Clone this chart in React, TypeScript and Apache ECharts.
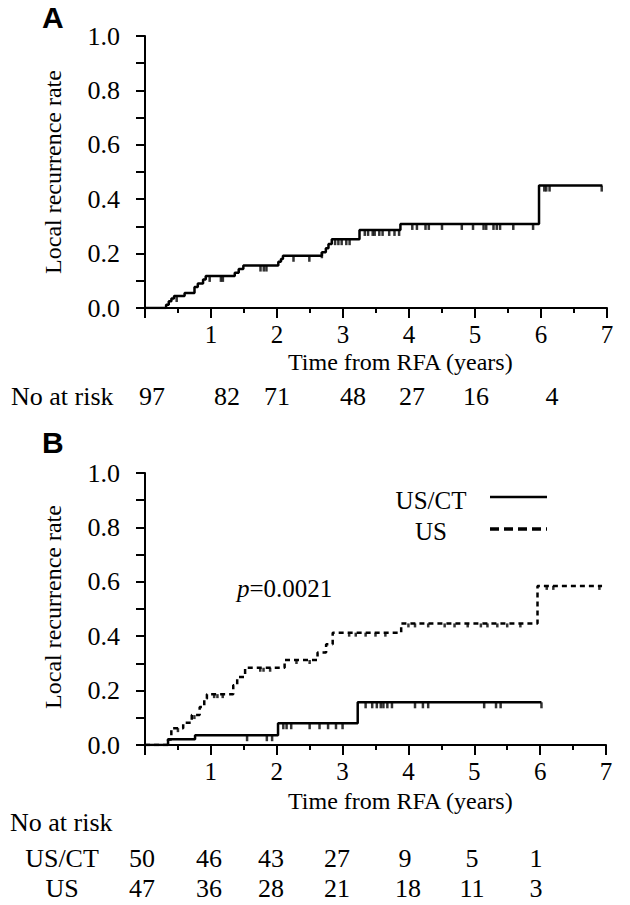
import React, { useEffect, useRef } from "react";
import * as echarts from "echarts";

// ---------- Data ----------
const xTickValues = [0, 1, 2, 3, 4, 5, 6, 7];

// Panel A: all patients
const aTimes = [0, 0.32, 0.36, 0.4, 0.44, 0.6, 0.75, 0.8, 0.88, 0.92, 1.36, 1.42, 1.49, 2.02, 2.06, 2.09, 2.68, 2.74, 2.78, 2.83, 3.25, 3.87, 5.97, 6.93];
const aRates = [0, 0.012, 0.025, 0.035, 0.044, 0.055, 0.077, 0.09, 0.105, 0.118, 0.13, 0.143, 0.156, 0.17, 0.18, 0.192, 0.205, 0.22, 0.235, 0.253, 0.287, 0.309, 0.45, 0.45];
const aCensor = [0.48, 0.98, 1.15, 1.18, 1.75, 1.8, 1.84, 2.25, 2.49, 2.68, 2.88, 2.93, 2.98, 3.05, 3.1, 3.33, 3.38, 3.45, 3.48, 3.55, 3.6, 3.7, 3.78, 3.85, 4.05, 4.12, 4.25, 4.3, 4.5, 4.8, 4.97, 5.13, 5.17, 5.28, 5.33, 5.38, 5.58, 5.88, 6.05, 6.08, 6.13, 6.92];

// Panel B: US/CT (solid)
const ctTimes = [0, 0.35, 0.76, 2.02, 3.23, 6.02];
const ctRates = [0, 0.021, 0.036, 0.08, 0.157, 0.157];
const ctCensor = [1.55, 1.85, 1.93, 2.1, 2.15, 2.22, 2.5, 2.65, 2.78, 2.9, 3.0, 3.35, 3.45, 3.52, 3.58, 3.62, 3.68, 3.75, 4.1, 4.22, 4.3, 5.15, 5.33, 5.4, 6.02];

// Panel B: US (dashed)
const usTimes = [0, 0.35, 0.4, 0.58, 0.71, 0.83, 0.9, 0.94, 1.34, 1.4, 1.52, 2.12, 2.62, 2.75, 2.85, 3.89, 5.96, 6.94];
const usRates = [0, 0.02, 0.062, 0.082, 0.11, 0.14, 0.17, 0.187, 0.22, 0.25, 0.284, 0.3125, 0.34, 0.37, 0.413, 0.447, 0.585, 0.585];
const usCensor = [0.5, 0.75, 1.05, 1.1, 1.18, 1.75, 1.8, 1.9, 2.3, 2.5, 3.1, 3.2, 3.35, 3.5, 3.65, 4.0, 4.1, 4.3, 4.55, 4.7, 4.9, 5.1, 5.2, 5.35, 5.5, 5.7, 6.1, 6.2, 6.9];

// Numbers at risk
const riskAll = [97, 82, 71, 48, 27, 16, 4];
const riskCT = [50, 46, 43, 27, 9, 5, 1];
const riskUS = [47, 36, 28, 21, 18, 11, 3];

const pValueText = "=0.0021";
const legendNames = ["US/CT", "US"];

// ---------- Layout (positions only) ----------
const riskAllX = [152, 227, 277, 353, 412, 476, 552];
const riskCTX = [142, 209, 271, 337, 405, 472, 536];
const riskUSX = [142, 209, 271, 337, 408, 472, 536];

const SERIF = "Liberation Serif";
const SANS = "Liberation Sans";

const stepAt = (times: number[], rates: number[], t: number) => {
  let v = 0;
  for (let i = 0; i < times.length; i++) if (times[i] <= t) v = rates[i];
  return v;
};

const pairs = (times: number[], rates: number[]) => times.map((t, i) => [t, rates[i]]);

const blackLine = { color: "#000", width: 2 };

const mkX = (gridIndex: number) => ({
  type: "value",
  gridIndex,
  min: 0,
  max: 7,
  interval: 1,
  axisLine: { show: true, onZero: false, lineStyle: blackLine },
  axisTick: { show: true, length: 10, lineStyle: blackLine },
  minorTick: { show: true, splitNumber: 2, length: 5, lineStyle: blackLine },
  splitLine: { show: false },
  minorSplitLine: { show: false },
  axisLabel: {
    margin: 14,
    fontSize: 25,
    color: "#000",
    fontFamily: SERIF,
    formatter: (v: number) => (xTickValues.includes(v) && v !== 0 ? String(v) : ""),
  },
});

const mkY = (gridIndex: number) => ({
  type: "value",
  gridIndex,
  min: 0,
  max: 1,
  interval: 0.1,
  axisLine: { show: true, onZero: false, lineStyle: blackLine },
  axisTick: { show: true, length: 9, lineStyle: blackLine },
  splitLine: { show: false },
  axisLabel: {
    margin: 25,
    fontSize: 26,
    color: "#000",
    fontFamily: SERIF,
    formatter: (v: number) => (Math.round(v * 10) % 2 === 0 ? v.toFixed(1) : ""),
  },
});

const stepSeries = (name: string, idx: number, times: number[], rates: number[], type: any) => ({
  name,
  type: "line",
  xAxisIndex: idx,
  yAxisIndex: idx,
  step: "end",
  symbol: "none",
  showSymbol: false,
  data: pairs(times, rates),
  lineStyle: { color: "#000", width: 2.5, type },
  z: 3,
});

const censorSeries = (name: string, idx: number, times: number[], rates: number[], censor: number[], h: number) => ({
  name,
  type: "scatter",
  xAxisIndex: idx,
  yAxisIndex: idx,
  symbol: "rect",
  symbolSize: [2.5, h],
  symbolOffset: [0, h / 2],
  itemStyle: { color: "#000" },
  data: censor.map((t) => [t, stepAt(times, rates, t)]),
  z: 4,
});

const txt = (text: string, x: number, y: number, extra: any = {}) => ({
  type: "text",
  x,
  y,
  style: {
    text,
    fill: "#000",
    fontFamily: SERIF,
    fontSize: 26,
    align: "center",
    verticalAlign: "middle",
    ...extra,
  },
});

export default function App() {
  const ref = useRef<HTMLDivElement>(null);

  useEffect(() => {
    if (!ref.current) return;
    const chart = echarts.init(ref.current, null, { renderer: "svg" });

    const graphics: any[] = [];
    // panel letters
    graphics.push(txt("A", 42, 17, { fontFamily: SANS, fontWeight: "bold", fontSize: 30, align: "left" }));
    graphics.push(txt("B", 42, 442, { fontFamily: SANS, fontWeight: "bold", fontSize: 30, align: "left" }));
    // y-axis titles
    graphics.push({ ...txt("Local recurrence rate", 53, 172, { fontSize: 24 }), rotation: Math.PI / 2 });
    graphics.push({ ...txt("Local recurrence rate", 53, 607, { fontSize: 24 }), rotation: Math.PI / 2 });
    // x-axis titles
    graphics.push(txt("Time from RFA (years)", 288, 362, { fontSize: 24, align: "left" }));
    graphics.push(txt("Time from RFA (years)", 288, 801, { fontSize: 24, align: "left" }));
    // at risk A
    graphics.push(txt("No at risk", 11, 396, { align: "left" }));
    riskAll.forEach((n, i) => graphics.push(txt(String(n), riskAllX[i], 396)));
    // at risk B
    graphics.push(txt("No at risk", 10, 822, { align: "left" }));
    graphics.push(txt(legendNames[0], 62, 858));
    graphics.push(txt(legendNames[1], 62, 888));
    riskCT.forEach((n, i) => graphics.push(txt(String(n), riskCTX[i], 858)));
    riskUS.forEach((n, i) => graphics.push(txt(String(n), riskUSX[i], 888)));
    // legend
    graphics.push(txt(legendNames[0], 431, 500, { fontSize: 25 }));
    graphics.push(txt(legendNames[1], 431, 531, { fontSize: 25 }));
    graphics.push({ type: "line", shape: { x1: 490, y1: 497, x2: 547, y2: 497 }, style: { stroke: "#000", lineWidth: 2.5 } });
    graphics.push({ type: "line", shape: { x1: 490, y1: 529, x2: 547, y2: 529 }, style: { stroke: "#000", lineWidth: 3.5, lineDash: [9, 5] } });
    // p value
    graphics.push({
      type: "text",
      x: 237,
      y: 588,
      style: {
        text: "{i|p}{n|" + pValueText + "}",
        fill: "#000",
        fontFamily: SERIF,
        fontSize: 25,
        verticalAlign: "middle",
        rich: {
          i: { fontStyle: "italic", fontSize: 25, fontFamily: SERIF, fill: "#000" },
          n: { fontSize: 25, fontFamily: SERIF, fill: "#000" },
        },
      },
    });

    chart.setOption({
      animation: false,
      backgroundColor: "#fff",
      textStyle: { fontFamily: SERIF },
      grid: [
        { left: 145, top: 36, width: 462, height: 272 },
        { left: 145, top: 473, width: 461, height: 272 },
      ],
      xAxis: [mkX(0), mkX(1)],
      yAxis: [mkY(0), mkY(1)],
      series: [
        stepSeries("All", 0, aTimes, aRates, "solid"),
        censorSeries("All censored", 0, aTimes, aRates, aCensor, 6),
        stepSeries(legendNames[0], 1, ctTimes, ctRates, "solid"),
        censorSeries(legendNames[0] + " censored", 1, ctTimes, ctRates, ctCensor, 6),
        stepSeries(legendNames[1], 1, usTimes, usRates, [5, 4]),
        censorSeries(legendNames[1] + " censored", 1, usTimes, usRates, usCensor, 4),
      ],
      graphic: graphics,
    });

    return () => chart.dispose();
  }, []);

  return (
    <div
      ref={ref}
      style={{ position: "absolute", left: 0, top: 0, width: 630, height: 905, background: "#fff" }}
    />
  );
}
